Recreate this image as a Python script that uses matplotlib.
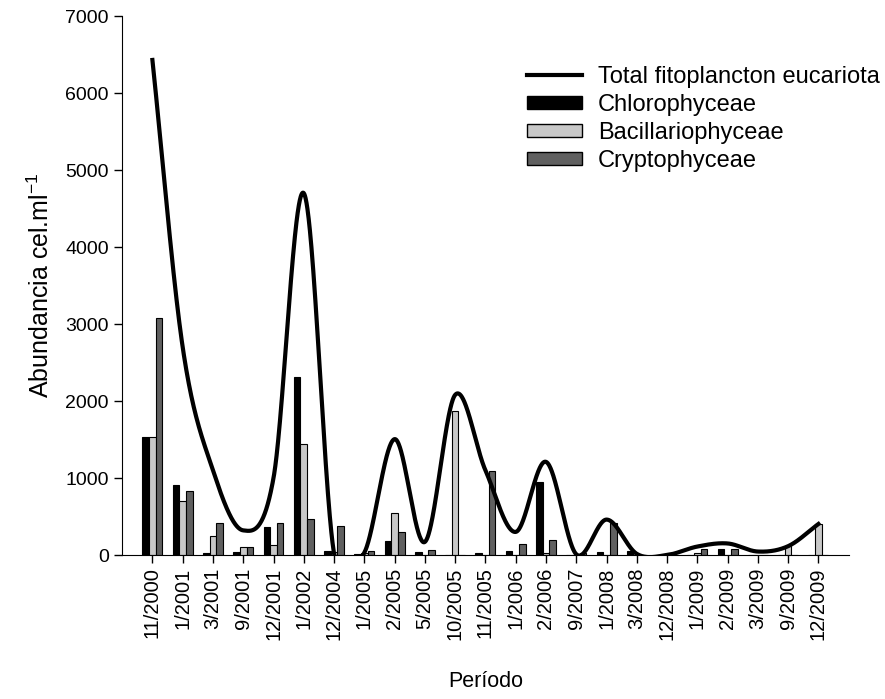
import numpy as np
import matplotlib
matplotlib.use("Agg")
import matplotlib.pyplot as plt
from matplotlib.patches import Patch
from matplotlib.lines import Line2D

plt.rcParams['font.family'] = ['Liberation Sans', 'DejaVu Sans']

periods = ["11/2000", "1/2001", "3/2001", "9/2001", "12/2001", "1/2002", "12/2004",
           "1/2005", "2/2005", "5/2005", "10/2005", "11/2005", "1/2006", "2/2006",
           "9/2007", "1/2008", "3/2008", "12/2008", "1/2009", "2/2009", "3/2009",
           "9/2009", "12/2009"]

total = [6430, 2700, 1100, 320, 1000, 4700, 20, 30, 1505, 170, 2080, 1100, 300,
         1210, 10, 460, 15, 0, 110, 150, 45, 115, 403]
chloro = [1530, 910, 20, 35, 364, 2315, 52, 15, 180, 43, 0, 22, 50, 950, 0, 45,
          52, 0, 0, 74, 0, 0, 0]
bacil = [1530, 706, 247, 108, 130, 1439, 43, 30, 545, 0, 1870, 0, 0, 30, 0, 0,
         0, 0, 30, 0, 0, 117, 403]
crypto = [3078, 828, 416, 108, 416, 464, 377, 55, 300, 62, 0, 1085, 140, 200, 20,
          412, 0, 0, 82, 74, 0, 0, 0]


def smooth_curve(y, n=100):
    # catmull-rom style hermite curve through the points
    y = np.asarray(y, dtype=float)
    m = np.zeros_like(y)
    m[1:-1] = (y[2:] - y[:-2]) / 2
    m[0] = y[1] - y[0]
    m[-1] = y[-1] - y[-2]
    xs, ys = [], []
    t = np.linspace(0, 1, n)
    h00 = 2 * t ** 3 - 3 * t ** 2 + 1
    h10 = t ** 3 - 2 * t ** 2 + t
    h01 = -2 * t ** 3 + 3 * t ** 2
    h11 = t ** 3 - t ** 2
    for i in range(len(y) - 1):
        xs.append(i + t)
        ys.append(h00 * y[i] + h10 * m[i] + h01 * y[i + 1] + h11 * m[i + 1])
    return np.concatenate(xs), np.concatenate(ys)


fig = plt.figure(figsize=(8.85, 6.99), dpi=100)
ax = fig.add_axes([0.138, 0.206, 0.821, 0.771])

x = np.arange(len(periods))
w = 0.22
ax.bar(x - w, chloro, w, color="black", edgecolor="black", linewidth=0.8, zorder=2)
ax.bar(x, bacil, w, color="#c8c8c8", edgecolor="black", linewidth=0.8, zorder=2)
ax.bar(x + w, crypto, w, color="#606060", edgecolor="black", linewidth=0.8, zorder=2)

cx, cy = smooth_curve(total)
ax.plot(cx, cy, color="black", linewidth=3, zorder=3)

ax.set_xlim(-1, 23)
ax.set_ylim(0, 7000)
ax.set_yticks(range(0, 7001, 1000))
ax.set_xticks(x)
ax.set_xticklabels(periods, rotation=90)
ax.tick_params(direction="out", length=5.5, width=1)
ax.tick_params(axis="x", labelsize=14.5)
ax.tick_params(axis="y", labelsize=14, pad=4)
ax.spines["top"].set_visible(False)
ax.spines["right"].set_visible(False)

ax.set_xlabel("Período", fontsize=15.5, labelpad=22)
ax.set_ylabel(r"Abundancia cel.ml$^{\mathregular{-1}}$", fontsize=18, labelpad=8)

handles = [Line2D([0], [0], color="black", linewidth=3),
           Patch(facecolor="black", edgecolor="black"),
           Patch(facecolor="#c8c8c8", edgecolor="black"),
           Patch(facecolor="#606060", edgecolor="black")]
labels = ["Total fitoplancton eucariota", "Chlorophyceae", "Bacillariophyceae",
          "Cryptophyceae"]
ax.legend(handles, labels, loc="upper left", bbox_to_anchor=(0.557, 0.908),
          frameon=False, fontsize=17, borderpad=0, borderaxespad=0,
          handlelength=2.33, handleheight=0.5, handletextpad=0.68, labelspacing=0.26)

fig.savefig("out.png", dpi=100)
